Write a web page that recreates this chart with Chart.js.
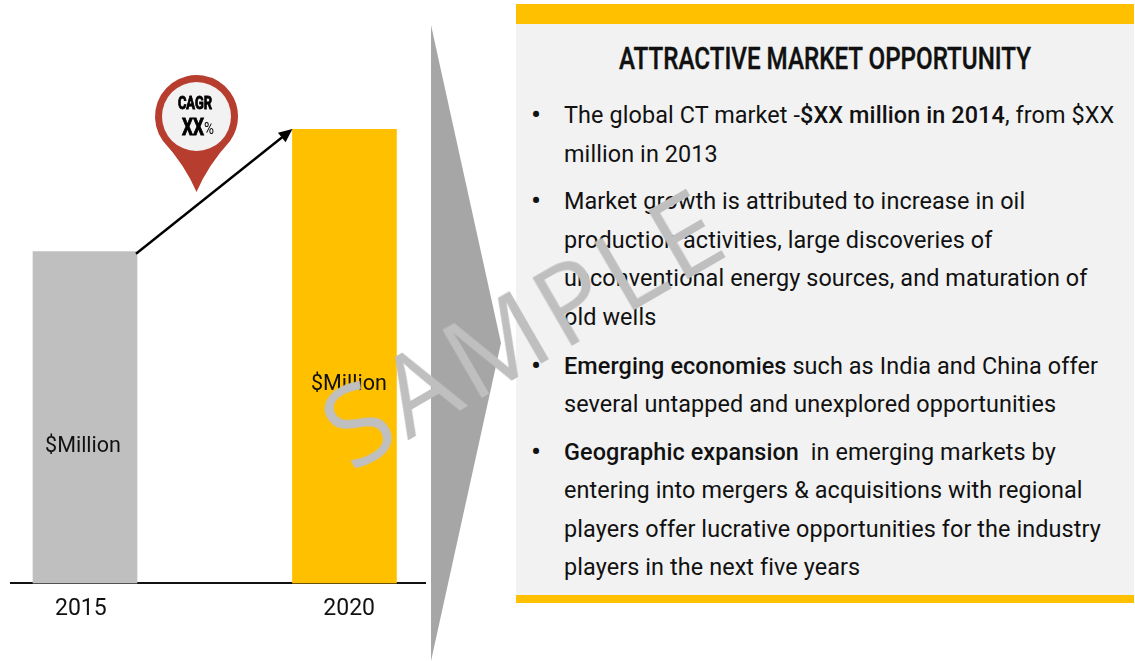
<!DOCTYPE html>
<html>
<head>
<meta charset="utf-8">
<script src="https://cdn.jsdelivr.net/npm/chart.js@4"></script>
<style>
html, body { margin: 0; padding: 0; background: #fff; }
#wrap { position: relative; width: 1135px; height: 661px; overflow: hidden; font-family: "Roboto", sans-serif; color: #111; }
#c { position: absolute; left: 0; top: 0; }
#panel { position: absolute; left: 516px; top: 4px; width: 618px; height: 599px; background: #f2f2f2; }
#panel .topbar { position: absolute; left: 0; top: 0; right: 0; height: 20px; background: #ffc000; }
#panel .botbar { position: absolute; left: 0; bottom: 0; right: 0; height: 8px; background: #ffc000; }
#title { position: absolute; left: 516px; width: 618px; top: 40px; text-align: center; font: 500 31px "Roboto", sans-serif; line-height: 38px; white-space: nowrap; transform: scaleX(0.78); -webkit-text-stroke: 0.4px #111; }
.line { position: absolute; left: 564px; font-size: 23.4px; letter-spacing: 0.1px; line-height: 30px; white-space: nowrap; }
.line b { font-weight: 500; }
.bullet { position: absolute; left: 531px; font-size: 30px; line-height: 30px; }
#sample { position: absolute; left: 522px; top: 325px; font: 400 110px "Open Sans", sans-serif; letter-spacing: 5px; color: #bfbfbf; white-space: nowrap; transform: translate(-50%, -50%) rotate(-30deg); }
</style>
</head>
<body>
<div id="wrap">
  <canvas id="c" width="1135" height="661"></canvas>
  <div id="panel"><div class="topbar"></div><div class="botbar"></div></div>
  <div id="title">ATTRACTIVE MARKET OPPORTUNITY</div>
  <div id="text"></div>
  <div id="sample">SAMPLE</div>
</div>
<script>
var years = [2015, 2020];
var values = [73, 100];
var barColors = ['#bfbfbf', '#ffc000'];
var barLabel = '$Million';
var tickValues = [2014.92, 2020.09];
var tickLabels = ['2015', '2020'];

var bulletLines = [
    ['The global CT market -<b>$XX million in 2014</b>, from $XX', 'million in 2013'],
    ['Market growth is attributed to increase in oil', 'production activities, large discoveries of', 'unconventional energy sources, and maturation of', 'old wells'],
    ['<b>Emerging economies</b> such as India and China offer', 'several untapped and unexplored opportunities'],
    ['<b>Geographic expansion</b>&nbsp; in emerging markets by', 'entering into mergers &amp; acquisitions with regional', 'players offer lucrative opportunities for the industry', 'players in the next five years']
];
var lineCenters = [[115, 154], [201, 240, 278, 317], [366, 404], [452, 490, 529, 567]];

var textBox = document.getElementById('text');
bulletLines.forEach(function (group, g) {
    var dot = document.createElement('div');
    dot.className = 'bullet';
    dot.style.top = (lineCenters[g][0] - 15) + 'px';
    dot.innerHTML = '&bull;';
    textBox.appendChild(dot);
    group.forEach(function (txt, i) {
        var el = document.createElement('div');
        el.className = 'line';
        el.style.top = (lineCenters[g][i] - 15) + 'px';
        el.innerHTML = txt;
        textBox.appendChild(el);
    });
});

function squeezed(ctx, txt, x, y, sx) {
    ctx.save();
    ctx.translate(x, y);
    ctx.scale(sx, 1);
    ctx.strokeText(txt, 0, 0);
    ctx.fillText(txt, 0, 0);
    ctx.restore();
}

// grey chevron, growth arrow, CAGR pin and bar captions
var overlay = {
    id: 'overlay',
    afterDatasetsDraw: function (chart) {
        var ctx = chart.ctx;
        var bars = chart.getDatasetMeta(0).data;
        var a = bars[0], b = bars[1];

        ctx.save();
        ctx.fillStyle = '#a6a6a6';
        ctx.beginPath();
        ctx.moveTo(431, 25);
        ctx.lineTo(501, 343);
        ctx.lineTo(431, 661);
        ctx.closePath();
        ctx.fill();

        // arrow
        var x0 = a.x + a.width / 2 - 1, y0 = a.y + 2;
        var x1 = b.x - b.width / 2, y1 = b.y;
        var ang = Math.atan2(y1 - y0, x1 - x0);
        ctx.strokeStyle = '#000';
        ctx.lineWidth = 2.4;
        ctx.beginPath();
        ctx.moveTo(x0, y0);
        ctx.lineTo(x1 - 10 * Math.cos(ang), y1 - 10 * Math.sin(ang));
        ctx.stroke();
        ctx.fillStyle = '#000';
        ctx.beginPath();
        ctx.moveTo(x1, y1);
        ctx.lineTo(x1 - 15 * Math.cos(ang - 0.42), y1 - 15 * Math.sin(ang - 0.42));
        ctx.lineTo(x1 - 15 * Math.cos(ang + 0.42), y1 - 15 * Math.sin(ang + 0.42));
        ctx.closePath();
        ctx.fill();

        // pin
        ctx.fillStyle = '#b73d2f';
        ctx.beginPath();
        ctx.arc(196.5, 116.5, 41.5, Math.PI * 0.8, Math.PI * 0.2);
        ctx.quadraticCurveTo(208, 165, 196.5, 192);
        ctx.quadraticCurveTo(185, 165, 163, 141);
        ctx.closePath();
        ctx.fill();
        ctx.fillStyle = '#f2f2f2';
        ctx.beginPath();
        ctx.arc(196.5, 116.5, 34.5, 0, Math.PI * 2);
        ctx.fill();

        ctx.fillStyle = '#000';
        ctx.strokeStyle = '#000';
        ctx.textBaseline = 'middle';
        ctx.textAlign = 'center';
        ctx.font = 'bold 18px Roboto';
        ctx.lineWidth = 0.9;
        squeezed(ctx, 'CAGR', 195, 104, 0.72);
        ctx.font = 'bold 24px Roboto';
        squeezed(ctx, 'XX', 193, 129, 0.72);
        ctx.font = '17px Roboto';
        ctx.textAlign = 'left';
        ctx.save();
        ctx.translate(204, 130);
        ctx.scale(0.8, 1);
        ctx.fillText('%', 0, 0);
        ctx.restore();
        ctx.textAlign = 'center';

        // captions inside the bars
        ctx.fillStyle = '#111';
        ctx.font = '21.5px Roboto';
        ctx.fillText(barLabel, a.x - 2, (a.y + a.base) / 2 + 29);
        ctx.fillText(barLabel, b.x + 4.5, (b.y + b.base) / 2 + 28);
        ctx.restore();
    }
};

new Chart(document.getElementById('c').getContext('2d'), {
    type: 'bar',
    data: {
        datasets: [{
            data: years.map(function (y, i) { return { x: y, y: values[i] }; }),
            backgroundColor: barColors,
            borderWidth: 0,
            barThickness: 104
        }]
    },
    options: {
        responsive: false,
        animation: false,
        layout: { padding: { left: 11, right: 710, top: 129, bottom: 26 } },
        plugins: { legend: { display: false }, tooltip: { enabled: false } },
        scales: {
            x: {
                type: 'linear',
                offset: false,
                min: 2013.574,
                max: 2021.552,
                afterBuildTicks: function (scale) {
                    scale.ticks = tickValues.map(function (v) { return { value: v }; });
                },
                grid: { display: false, drawTicks: false },
                border: { color: '#111', width: 2 },
                ticks: {
                    autoSkip: false,
                    maxRotation: 0,
                    padding: 12,
                    color: '#111',
                    font: { family: 'Roboto', size: 23 },
                    callback: function (v, i) { return tickLabels[i]; }
                }
            },
            y: { display: false, min: 0, max: 100 }
        }
    },
    plugins: [overlay]
});
</script>
</body>
</html>
